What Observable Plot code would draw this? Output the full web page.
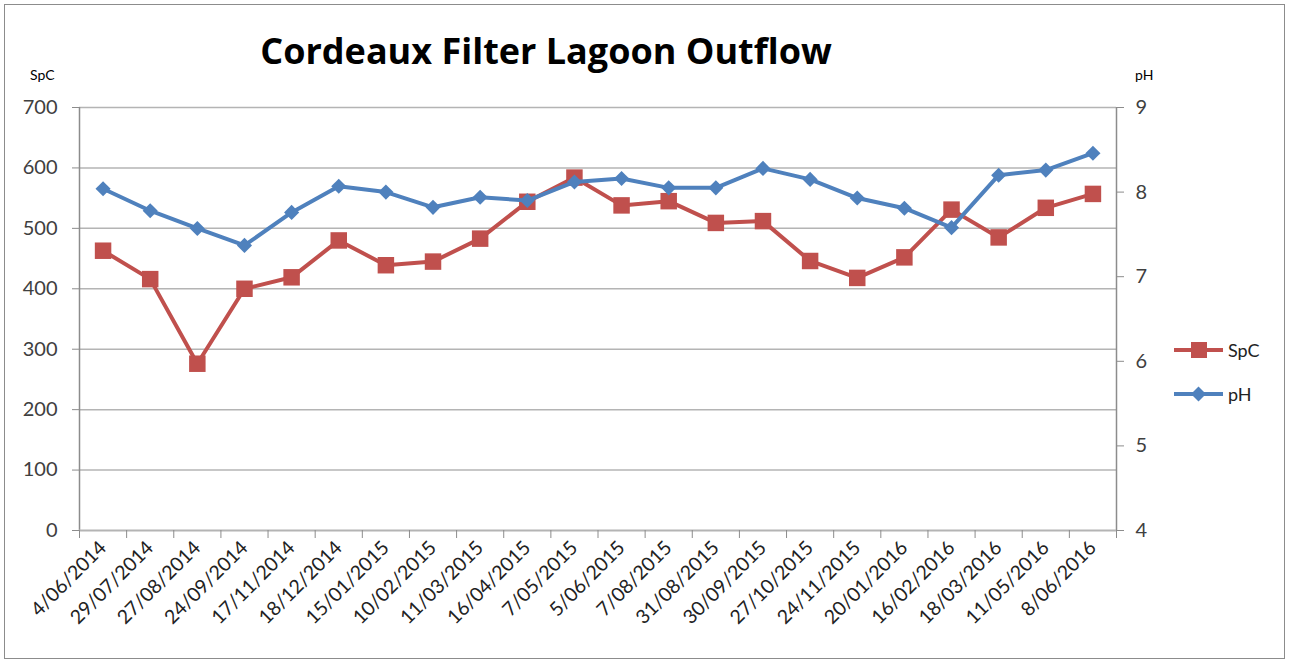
<!DOCTYPE html>
<html><head><meta charset="utf-8">
<script src="https://cdn.jsdelivr.net/npm/d3@7"></script>
<script src="https://cdn.jsdelivr.net/npm/@observablehq/plot@0.6"></script>
<style>
body{margin:0;background:#fff;font-family:Lato,sans-serif;}
#wrap{position:relative;width:1289px;height:664px;overflow:hidden;background:#fff;}
#frame{position:absolute;left:4px;top:4px;width:1281px;height:655px;border:1px solid #8c8c8c;box-sizing:border-box;pointer-events:none;}
#title{position:absolute;left:0;width:1092px;top:26px;text-align:center;font:bold 36px "Open Sans",sans-serif;color:#000;}
.axlab{position:absolute;top:66px;font:14px Lato,sans-serif;color:#000;}
.leg{position:absolute;left:1174px;font:18px Lato,sans-serif;color:#222;display:flex;align-items:center;}
.leg span{margin-left:4px;}
#chart{position:absolute;left:0;top:0;}
</style></head>
<body>
<div id="wrap">
<div id="chart"></div>
<div id="frame"></div>
<div id="title">Cordeaux Filter Lagoon Outflow</div>
<div class="axlab" style="left:30px">SpC</div>
<div class="axlab" style="left:1135px">pH</div>
<div class="leg" style="top:339px"><svg width="50" height="22"><line x1="0" y1="11" x2="49" y2="11" stroke="#C0504D" stroke-width="4"/><rect x="17" y="3" width="16" height="16" fill="#C0504D"/></svg><span>SpC</span></div>
<div class="leg" style="top:383px"><svg width="50" height="22"><line x1="0" y1="11" x2="49" y2="11" stroke="#4F81BD" stroke-width="4"/><path d="M24.5 3.5 L32 11 L24.5 18.5 L17 11Z" fill="#4F81BD"/></svg><span>pH</span></div>
</div>
<script>
const dates = ["4/06/2014","29/07/2014","27/08/2014","24/09/2014","17/11/2014","18/12/2014","15/01/2015","10/02/2015","11/03/2015","16/04/2015","7/05/2015","5/06/2015","7/08/2015","31/08/2015","30/09/2015","27/10/2015","24/11/2015","20/01/2016","16/02/2016","18/03/2016","11/05/2016","8/06/2016"];
const spc = [463,416,276,400,419,480,439,445,483,544,584,538,545,509,512,446,418,452,531,485,534,557];
const ph = [8.04,7.78,7.57,7.37,7.76,8.07,8.00,7.82,7.94,7.90,8.12,8.16,8.05,8.05,8.28,8.15,7.93,7.81,7.58,8.20,8.26,8.46];
const leftTicks = [0,100,200,300,400,500,600,700];
const rightTicks = [4,5,6,7,8,9];

const phToY = v => (v - 4) * 140;
const rows = dates.map((d, i) => ({i, date: d, spc: spc[i], phY: phToY(ph[i])}));
const bounds = d3.range(dates.length + 1).map(k => k - 0.5);

const plot = Plot.plot({
  width: 1289, height: 664,
  marginLeft: 79, marginRight: 173, marginTop: 107, marginBottom: 134,
  x: {type: "linear", domain: [-0.5, dates.length - 0.5]},
  y: {domain: [0, 700]},
  style: {fontFamily: "Lato, sans-serif", fontSize: "20px", color: "#404040", background: "transparent", overflow: "visible"},
  marks: [
    Plot.ruleY(leftTicks.slice(1), {stroke: "#b4b4b4", strokeWidth: 1.5}),
    Plot.ruleX([-0.5, dates.length - 0.5], {stroke: "#8c8c8c", strokeWidth: 1.5}),
    Plot.ruleY([0], {stroke: "#b4b4b4", strokeWidth: 2}),
    Plot.axisY({ticks: leftTicks, tickSize: 7, tickPadding: 15, tickFormat: d => d, label: null, stroke: "#8c8c8c"}),
    Plot.axisY({anchor: "right", ticks: rightTicks.map(phToY), tickFormat: d => d / 140 + 4, tickSize: 7, tickPadding: 12, label: null, stroke: "#8c8c8c"}),
    Plot.axisX({ticks: bounds, tickFormat: () => "", tickSize: 8, label: null, stroke: "#8c8c8c"}),
    Plot.axisX({ticks: d3.range(dates.length), tickFormat: i => dates[i], tickRotate: -45, tickSize: 0, tickPadding: 14, fontSize: 19.5, label: null, fill: "#222"}),
    Plot.line(rows, {x: "i", y: "spc", stroke: "#C0504D", strokeWidth: 4}),
    Plot.dot(rows, {x: "i", y: "spc", symbol: "square", r: 9.3, fill: "#C0504D"}),
    Plot.line(rows, {x: "i", y: "phY", stroke: "#4F81BD", strokeWidth: 4}),
    Plot.dot(rows, {x: "i", y: "phY", symbol: "diamond2", r: 6.8, fill: "#4F81BD"})
  ]
});
document.getElementById("chart").appendChild(plot);
</script>
</body></html>
